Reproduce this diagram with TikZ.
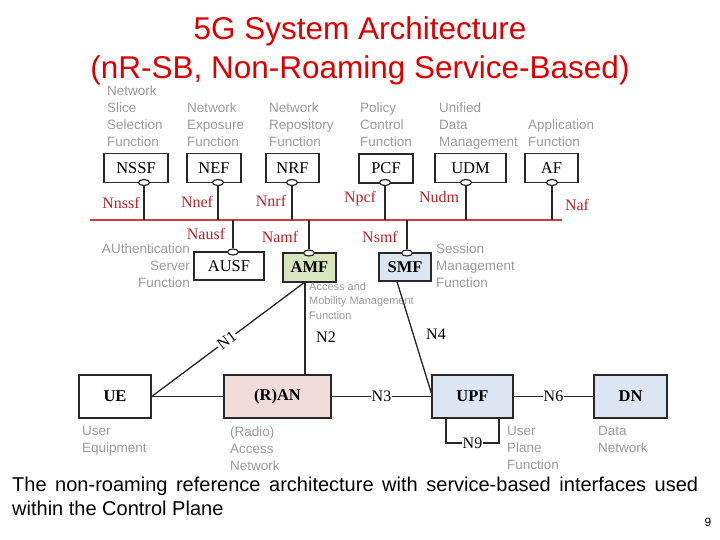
\documentclass[tikz,border=0pt]{standalone}
\usepackage{fontspec}
\setmainfont{Liberation Serif}
\newfontfamily\arial{Liberation Sans}
\usetikzlibrary{shapes.geometric,calc}
\definecolor{titlered}{RGB}{222,0,0}
\definecolor{lblred}{RGB}{192,32,40}
\definecolor{busred}{RGB}{204,64,72}
\definecolor{graytxt}{RGB}{155,155,155}
\definecolor{boxline}{RGB}{40,40,40}
\definecolor{amfgreen}{RGB}{215,228,189}
\definecolor{bluegray}{RGB}{220,230,242}
\definecolor{ranpink}{RGB}{242,220,219}
\tikzset{
  nfbox/.style={draw=boxline, line width=1.4pt, fill=white, inner sep=0pt, font=\fontsize{16.5}{18}\selectfont},
  port/.style={ellipse, draw=boxline, line width=1.2pt, fill=white, minimum width=11pt, minimum height=6pt, inner sep=0pt},
  link/.style={draw=boxline, line width=1.3pt},
  bus/.style={draw=busred, line width=2pt},
  rlbl/.style={text=lblred, font=\fontsize{16}{18}\selectfont, inner sep=0pt},
  nlbl/.style={font=\fontsize{16}{18}\selectfont, fill=white, inner sep=1pt},
  gl/.style={text=graytxt, font=\arial\fontsize{13.5}{17}\selectfont, align=left, inner sep=0pt},
  glr/.style={text=graytxt, font=\arial\fontsize{13.5}{17}\selectfont, align=right, inner sep=0pt},
  gls/.style={text=graytxt, font=\arial\fontsize{11}{14.5}\selectfont, align=left, inner sep=0pt},
}
\begin{document}
\begin{tikzpicture}[x=1pt,y=-1pt]
\useasboundingbox (0,0) rectangle (720,540);
% title
\node[anchor=base, text=titlered, font=\arial\fontsize{31.5}{36}\selectfont, inner sep=0pt] (t1) at (360,39.5) {5G System Architecture};
\node[anchor=base, text=titlered, font=\arial\fontsize{31.5}{36}\selectfont, inner sep=0pt] (t2) at (360,78.5) {(nR-SB, Non-Roaming Service-Based)};
% top descriptions
\node[gl, anchor=north west] (dNSSF) at (107,86) {Network\\Slice\\Selection\\Function};
\node[gl, anchor=north west] (dNEF) at (187,103) {Network\\Exposure\\Function};
\node[gl, anchor=north west] (dNRF) at (269,103) {Network\\Repository\\Function};
\node[gl, anchor=north west] (dPCF) at (360,103) {Policy\\Control\\Function};
\node[gl, anchor=north west] (dUDM) at (439,103) {Unified\\Data\\Management};
\node[gl, anchor=north west] (dAF) at (528,120) {Application\\Function};
% bus
\coordinate (busL) at (90,220);
\coordinate (busR) at (562,220);
\draw[bus] (busL) -- (busR);
% top boxes
\node[nfbox, minimum width=64pt, minimum height=29pt] (NSSF) at (136,168) {NSSF};
\node[nfbox, minimum width=54pt, minimum height=29pt] (NEF) at (214,168) {NEF};
\node[nfbox, minimum width=53pt, minimum height=29pt] (NRF) at (292.5,168) {NRF};
\node[nfbox, minimum width=54pt, minimum height=29pt] (PCF) at (386,168.5) {PCF};
\node[nfbox, minimum width=71pt, minimum height=29pt] (UDM) at (470.5,168) {UDM};
\node[nfbox, minimum width=53pt, minimum height=29pt] (AF) at (551.5,168) {AF};
% ports top
\foreach \n/\x in {NSSF/144,NEF/218,NRF/292,PCF/385,UDM/466,AF/552}{
  \node[port] (p\n) at (\x,182.5) {};
  \coordinate (b\n) at (\x,220);
  \draw[link] (p\n.south) -- (b\n);
}
% lower boxes
\node[nfbox, minimum width=70pt, minimum height=28pt] (AUSF) at (229,266) {AUSF};
\node[nfbox, fill=amfgreen, minimum width=53pt, minimum height=29pt, font=\fontsize{16.5}{18}\selectfont\bfseries] (AMF) at (309.5,267.5) {AMF};
\node[nfbox, fill=bluegray, minimum width=52pt, minimum height=28pt, font=\fontsize{16.5}{18}\selectfont\bfseries] (SMF) at (405,267) {SMF};
\foreach \n/\x/\y in {AUSF/233/252,AMF/309/253,SMF/407/253}{
  \node[port] (p\n) at (\x,\y) {};
  \coordinate (b\n) at (\x,220);
  \draw[link] (b\n) -- (p\n.north);
}
% red interface labels
\node[rlbl] (lNSSF) at (121,203) {Nnssf};
\node[rlbl] (lNEF) at (197,202) {Nnef};
\node[rlbl] (lNRF) at (271,201) {Nnrf};
\node[rlbl] (lPCF) at (360,199) {Npcf};
\node[rlbl] (lUDM) at (439,197) {Nudm};
\node[rlbl] (lAF) at (577,205) {Naf};
\node[rlbl] (lAUSF) at (206,234) {Nausf};
\node[rlbl] (lAMF) at (280,237) {Namf};
\node[rlbl] (lSMF) at (380,237) {Nsmf};
% lower descriptions
\node[glr, anchor=north east] (dAUSF) at (190,243.5) {AUthentication\\Server\\Function};
\node[gl, anchor=north west] (dSMF) at (436,244) {Session\\Management\\Function};
\node[gls, anchor=north west] (dAMF) at (309,282) {Access and\\Mobility Management\\Function};
% bottom boxes
\node[nfbox, minimum width=72pt, minimum height=43pt, font=\fontsize{16.5}{18}\selectfont\bfseries] (UE) at (115,396.5) {UE};
\node[nfbox, fill=ranpink, minimum width=107pt, minimum height=43pt, font=\fontsize{16.5}{18}\selectfont\bfseries] (RAN) at (277.5,396.5) {(R)AN};
\node[nfbox, fill=bluegray, minimum width=81pt, minimum height=43pt, font=\fontsize{16.5}{18}\selectfont\bfseries] (UPF) at (472.5,396.5) {UPF};
\node[nfbox, fill=bluegray, minimum width=73pt, minimum height=43pt, font=\fontsize{16.5}{18}\selectfont\bfseries] (DN) at (630.5,396.5) {DN};
% connectors
\coordinate (amfP) at (305,282);
\coordinate (smfP) at (397,281.5);
\draw[link] (UE.east) -- (RAN.west);
\draw[link] (UE.east) -- node[nlbl, rotate=37, pos=0.49]{N1} (amfP);
\draw[link] (amfP) -- (RAN.north -| amfP);
\draw[link] (smfP) -- ($(UPF.west)+(0,-3.5)$);
\draw[link] (RAN.east) -- node[nlbl]{N3} (UPF.west);
\draw[link] (UPF.east) -- node[nlbl]{N6} (DN.west);
\coordinate (n9a) at (446,418);
\coordinate (n9b) at (499,418);
\draw[link] (n9a) -- ++(0,25) -- node[nlbl]{N9} ++(53,0) -- (n9b);
\node[font=\fontsize{16}{18}\selectfont, inner sep=0pt] (lN2) at (326,337) {N2};
\node[font=\fontsize{16}{18}\selectfont, inner sep=0pt] (lN4) at (436,334) {N4};
% bottom descriptions
\node[gl, anchor=north west] (dUE) at (82,426.5) {User\\Equipment};
\node[gl, anchor=north west] (dRAN) at (230,426.5) {(Radio)\\Access\\Network};
\node[gl, anchor=north west] (dUPF) at (507,426.5) {User\\Plane\\Function};
\node[gl, anchor=north west] (dDN) at (598,426.5) {Data\\Network};
% caption
\node[anchor=base west, inner sep=0pt, font=\arial\fontsize{20}{24}\selectfont] (cap1) at (12,491) {\makebox[686pt][s]{The non-roaming reference architecture with service-based interfaces used}};
\node[anchor=base west, inner sep=0pt, font=\arial\fontsize{20}{24}\selectfont] (cap2) at (12,515) {within the Control Plane};
\node[font=\arial\fontsize{12}{14}\selectfont, inner sep=0pt] (pg) at (708,522) {9};
\end{tikzpicture}
\end{document}
